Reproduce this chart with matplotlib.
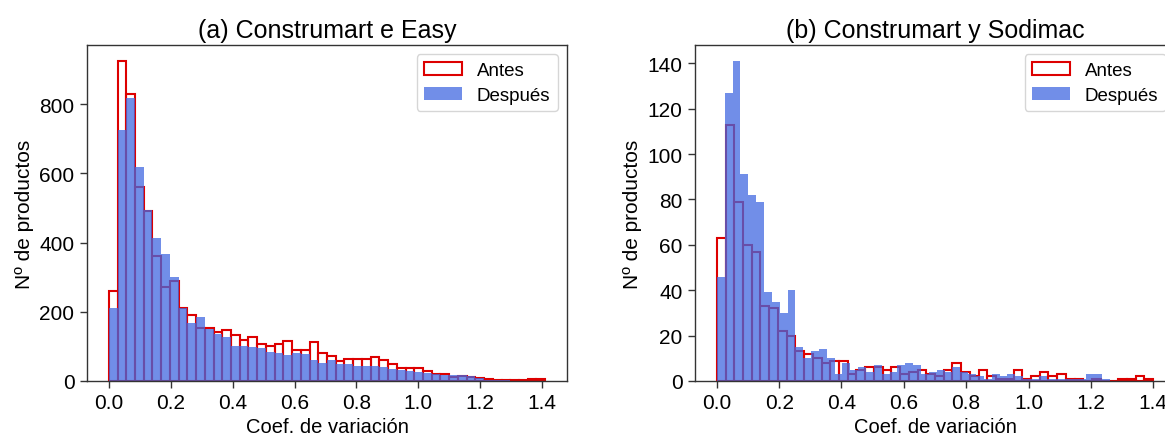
import numpy as np
import matplotlib
matplotlib.use("Agg")
import matplotlib.pyplot as plt

# ---------------- data ----------------
# Panel (a): Construmart e Easy, 50 bins over [0, 1.41]
a_range = (0.0, 1.41)
a_antes = [260, 925, 830, 560, 490, 360, 272, 290, 212, 192,
           153, 153, 141, 146, 134, 119, 127, 107, 102, 107,
           117, 91, 91, 112, 81, 73, 59, 65, 65, 63,
           68, 60, 49, 39, 39, 39, 29, 21, 20, 13,
           15, 13, 8, 5, 3, 3, 3, 4, 5, 6]
a_despues = [210, 725, 817, 620, 495, 413, 368, 300, 210, 168,
             185, 150, 135, 128, 100, 100, 98, 95, 85, 80,
             75, 80, 78, 60, 52, 62, 50, 48, 42, 42,
             44, 40, 35, 32, 30, 25, 22, 20, 16, 18,
             18, 15, 8, 4, 2, 2, 1, 1, 1, 0]

# Panel (b): Construmart y Sodimac, each series binned on its own range (50 bins)
b_antes_range = (0.0, 1.40)
b_antes = [63, 113, 79, 60, 57, 33, 32, 22, 20, 13,
           12, 10, 8, 9, 9, 3, 5, 6, 6, 5,
           6, 3, 4, 5, 3, 2, 5, 8, 4, 2,
           5, 2, 1, 1, 5, 1, 2, 4, 2, 3,
           1, 1, 0, 1, 0, 0, 1, 1, 2, 1]
b_despues_range = (0.0, 1.26)
b_despues = [46, 127, 141, 91, 82, 79, 39, 35, 30, 40,
             15, 10, 13, 14, 10, 3, 8, 5, 6, 4,
             7, 3, 4, 7, 8, 7, 3, 4, 5, 4,
             6, 4, 3, 2, 1, 3, 2, 3, 2, 1,
             1, 2, 1, 1, 1, 1, 1, 3, 3, 1]

titles = ["(a) Construmart e Easy", "(b) Construmart y Sodimac"]
xlabel = "Coef. de variación"
ylabel = "Nº de productos"
labels = ["Antes", "Después"]
a_yticks = [0, 200, 400, 600, 800]
b_yticks = [0, 20, 40, 60, 80, 100, 120, 140]
xticks = [0.0, 0.2, 0.4, 0.6, 0.8, 1.0, 1.2, 1.4]

# ---------------- style ----------------
FONT = ["Liberation Sans", "DejaVu Sans"]
plt.rcParams["font.family"] = FONT
RED = "#dd0000"
BLUE = "royalblue"

W, H = 1165, 435
fig = plt.figure(figsize=(W / 100, H / 100), dpi=100)


def add_ax(left, right, top, bottom):
    return fig.add_axes([left / W, 1 - bottom / H, (right - left) / W, (bottom - top) / H])


ax_a = add_ax(87, 567, 46, 382)
ax_b = add_ax(695, 1175, 46, 382)


def draw(ax, antes, antes_rng, desp, desp_rng, yticks, title):
    e1 = np.linspace(antes_rng[0], antes_rng[1], len(antes) + 1)
    c1 = (e1[:-1] + e1[1:]) / 2
    e2 = np.linspace(desp_rng[0], desp_rng[1], len(desp) + 1)
    c2 = (e2[:-1] + e2[1:]) / 2
    ax.hist(c1, bins=e1, weights=antes, histtype="bar", fill=False,
            edgecolor=RED, linewidth=1.5, label=labels[0])
    ax.hist(c2, bins=e2, weights=desp, histtype="bar", color=BLUE,
            alpha=0.75, label=labels[1])
    ax.set_yticks(yticks)
    ax.set_xticks(xticks)
    ax.set_xticklabels([f"{v:.1f}" for v in xticks])
    ax.tick_params(labelsize=15, length=5, width=1, color="#333333", pad=4)
    ax.set_title(title, fontsize=18, pad=6)
    ax.set_xlabel(xlabel, fontsize=14.5, labelpad=3)
    ax.set_ylabel(ylabel, fontsize=15, labelpad=4)
    for s in ax.spines.values():
        s.set_color("#333333")
        s.set_linewidth(1.0)
    leg = ax.legend(loc="upper right", frameon=True,
                    prop={"size": 13.5},
                    handlelength=2.0, borderpad=0.4, labelspacing=0.4)
    leg.get_frame().set_edgecolor("#cccccc")


draw(ax_a, a_antes, a_range, a_despues, a_range, a_yticks, titles[0])
draw(ax_b, b_antes, b_antes_range, b_despues, b_despues_range, b_yticks, titles[1])

fig.savefig("out.png", dpi=100)
